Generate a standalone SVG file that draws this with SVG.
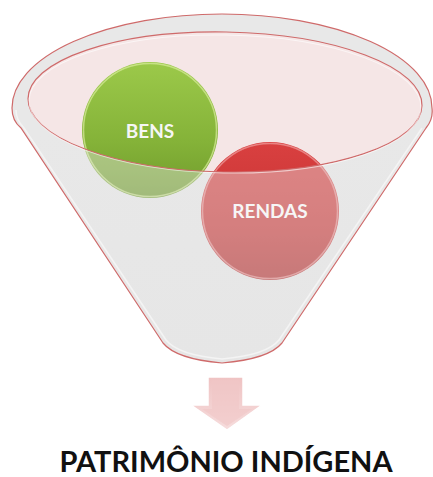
<svg xmlns="http://www.w3.org/2000/svg" width="433" height="477" viewBox="0 0 433 477">
<defs>
<linearGradient id="gGreen" x1="0" y1="0" x2="0" y2="1">
<stop offset="0" stop-color="#9cc94a"/>
<stop offset="0.6" stop-color="#84b238"/>
<stop offset="1" stop-color="#6f9a2c"/>
</linearGradient>
<linearGradient id="gRed" x1="0" y1="0" x2="0" y2="1">
<stop offset="0" stop-color="#d94040"/>
<stop offset="0.6" stop-color="#c83434"/>
<stop offset="1" stop-color="#b02a2a"/>
</linearGradient>
<linearGradient id="gBody" x1="0" y1="0" x2="0" y2="1">
<stop offset="0" stop-color="#e9e9e9"/>
<stop offset="1" stop-color="#e6e6e6"/>
</linearGradient>
<linearGradient id="gArrow" x1="0" y1="0" x2="0" y2="1">
<stop offset="0" stop-color="#efc3c3"/>
<stop offset="1" stop-color="#f6dcdc"/>
</linearGradient>
<style>
.edge{fill:none;stroke:#cf6a6a;stroke-width:1.2}
.hl{fill:none;stroke:#ffffff;stroke-width:1.6;opacity:0.9}
.lbl{font-family:Lato,"Open Sans","Liberation Sans",sans-serif;font-weight:bold;fill:#f6f6f6;text-anchor:middle}
.title{font-family:Lato,"Open Sans","Liberation Sans",sans-serif;font-weight:bold;fill:#111111;text-anchor:middle}
</style>
</defs>
<rect width="433" height="477" fill="#ffffff"/>

<g id="funnel">
<path id="bodyBack" d="M12,108 C12,118 16,124 21,128 L163,343 Q176,359 222,363 Q269,359 282,343 L426,128 C431,122 433,116 432,108 A210 94 0 0 0 12,108 Z" fill="url(#gBody)"/>
<path class="hl" d="M16,110 C16,118 19,123 24,128 L166,340 Q178,355 222,359 Q267,355 279,340 L422,128"/>
<ellipse id="opening" cx="225" cy="102" rx="197" ry="70" transform="rotate(1 225 102)" fill="#f5e6e6"/>
</g>

<g id="bens">
<circle cx="150" cy="130" r="68" fill="url(#gGreen)"/>
<circle cx="150" cy="130" r="66.5" fill="none" stroke="#d8ec9c" stroke-width="1.5" opacity="0.7"/>
<text class="lbl" x="150" y="138" font-size="19">BENS</text>
</g>

<g id="rendas">
<circle cx="270" cy="211" r="69" fill="url(#gRed)"/>
<circle cx="270" cy="211" r="67.5" fill="none" stroke="#f0a0a0" stroke-width="1.5" opacity="0.7"/>
</g>

<g id="funnelFront">
<path d="M12,108 C12,118 16,124 21,128 L163,343 Q176,359 222,363 Q269,359 282,343 L426,128 C431,122 433,116 432,108 A210 94 0 0 0 12,108 Z M28,102 A197 70 1 0 0 422,102 A197 70 1 0 0 28,102 Z" fill="#e6e6e6" fill-opacity="0.42" fill-rule="evenodd"/>
<path class="edge" d="M12,108 C12,118 16,124 21,128 L163,343 Q176,359 222,363 Q269,359 282,343 L426,128 C431,122 433,116 432,108 A210 94 0 0 0 12,108 Z"/>
<ellipse cx="225" cy="102" rx="197" ry="70" transform="rotate(1 225 102)" class="edge"/>
<ellipse cx="225" cy="104" rx="196" ry="69" transform="rotate(1 225 102)" fill="none" stroke="#ffffff" stroke-width="1" opacity="0.6"/>
<text class="lbl" x="270" y="218" font-size="19">RENDAS</text>
</g>

<g id="connectors">
<path d="M208,377 L243,377 L243,405 L262,405 L227,430 L191,405 L208,405 Z" fill="url(#gArrow)" stroke="#ffffff" stroke-width="1.5"/>
<path d="M212,380 L239,380 L239,409 L252,409 L227,426 L202,409 L212,409 Z" fill="#f0c6c6" opacity="0.6"/>
</g>

<g id="label">
<text class="title" x="226" y="472" font-size="29" textLength="333" lengthAdjust="spacingAndGlyphs">PATRIMÔNIO INDÍGENA</text>
</g>
</svg>
